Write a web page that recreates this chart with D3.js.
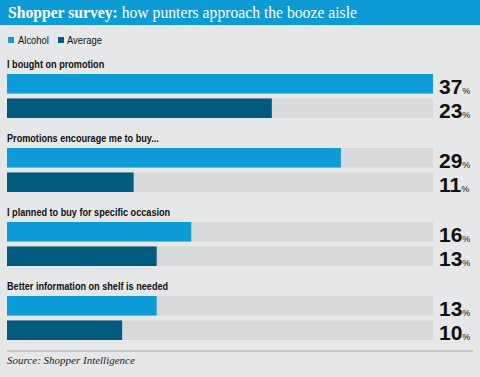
<!DOCTYPE html>
<html>
<head>
<meta charset="UTF-8">
<title></title>
<style>
  body { margin: 0; background: #e6e7e9; }
</style>
</head>
<body>
<script src="https://cdn.jsdelivr.net/npm/d3@7/dist/d3.min.js"></script>
<script>
    var width = 480;
    var height = 377;

    // data
    var categories = ["I bought on promotion", "Promotions encourage me to buy...",
        "I planned to buy for specific occasion", "Better information on shelf is needed"];
    var seriesNames = ["Alcohol", "Average"];
    var alcohol = [37, 29, 16, 13];
    var average = [23, 11, 13, 10];
    var colors = ["#0e9cd9", "#015b7e"];

    var svg = d3.select("body").append("svg")
        .attr("width", width)
        .attr("height", height);

    svg.append("rect").attr("width", width).attr("height", height).attr("fill", "#e6e7e9");

    // title bar
    svg.append("rect").attr("width", width).attr("height", 25).attr("fill", "#0d9bd6");
    var title = svg.append("text")
        .attr("transform", "translate(8,18) scale(0.95,1)")
        .attr("fill", "#fff")
        .style("font-family", "'Liberation Serif', serif")
        .style("font-size", "16.5px");
    title.append("tspan").attr("font-weight", "bold").text("Shopper survey:");
    title.append("tspan").text(" how punters approach the booze aisle");

    // legend
    var legend = svg.append("g").selectAll("g")
        .data(seriesNames)
        .join("g");
    legend.append("rect")
        .attr("x", (d, i) => 8 + i * 50)
        .attr("y", 37)
        .attr("width", 6).attr("height", 6)
        .attr("fill", (d, i) => colors[i]);
    legend.append("text")
        .attr("transform", (d, i) => "translate(" + (18 + i * 49) + ",44) scale(0.9,1)")
        .style("font-family", "'Liberation Sans', sans-serif")
        .style("font-size", "10.5px")
        .attr("fill", "#111")
        .text(d => d);

    // scales
    var x = d3.scaleLinear()
        .domain([0, d3.max(alcohol.concat(average))])
        .range([7, 433]);

    var yGroup = d3.scaleBand()
        .domain(categories)
        .range([51, 347])
        .paddingInner(0);

    var ySub = d3.scaleBand()
        .domain(seriesNames)
        .range([23, 67])
        .paddingInner(0.2);

    var groups = svg.append("g").selectAll("g")
        .data(categories)
        .join("g")
        .attr("transform", d => "translate(0," + yGroup(d) + ")");

    // category labels, squeezed to mimic the condensed face
    groups.append("text")
        .attr("transform", "translate(7,17) scale(0.83,1)")
        .style("font-family", "'Liberation Sans', sans-serif")
        .style("font-size", "11px")
        .style("font-weight", "bold")
        .attr("fill", "#111")
        .text(d => d);

    var bars = groups.selectAll("g.bar")
        .data((d, i) => seriesNames.map((s, j) => ({ s: s, j: j, v: j == 0 ? alcohol[i] : average[i] })))
        .join("g")
        .attr("class", "bar")
        .attr("transform", d => "translate(0," + ySub(d.s) + ")");

    bars.append("rect")
        .attr("x", x(0))
        .attr("width", x.range()[1] - x(0))
        .attr("height", ySub.bandwidth())
        .attr("fill", "#d8d9db");

    bars.append("rect")
        .attr("x", x(0))
        .attr("width", d => x(d.v) - x(0))
        .attr("height", ySub.bandwidth())
        .attr("fill", d => colors[d.j]);

    var lab = bars.append("text")
        .attr("x", 439)
        .attr("y", ySub.bandwidth())
        .style("font-family", "'Liberation Sans', sans-serif")
        .attr("fill", "#111");
    lab.append("tspan")
        .style("font-size", "21px")
        .style("font-weight", "bold")
        .text(d => d.v);
    lab.append("tspan")
        .style("font-size", "9px")
        .text("%");

    // source
    svg.append("line")
        .attr("x1", 7).attr("x2", 473)
        .attr("y1", 351).attr("y2", 351)
        .attr("stroke", "#a9aaac").attr("stroke-width", 1);
    svg.append("text")
        .attr("x", 7).attr("y", 364)
        .style("font-family", "'Liberation Serif', serif")
        .style("font-style", "italic")
        .style("font-size", "11px")
        .attr("fill", "#222")
        .text("Source: Shopper Intelligence");
</script>
</body>
</html>
